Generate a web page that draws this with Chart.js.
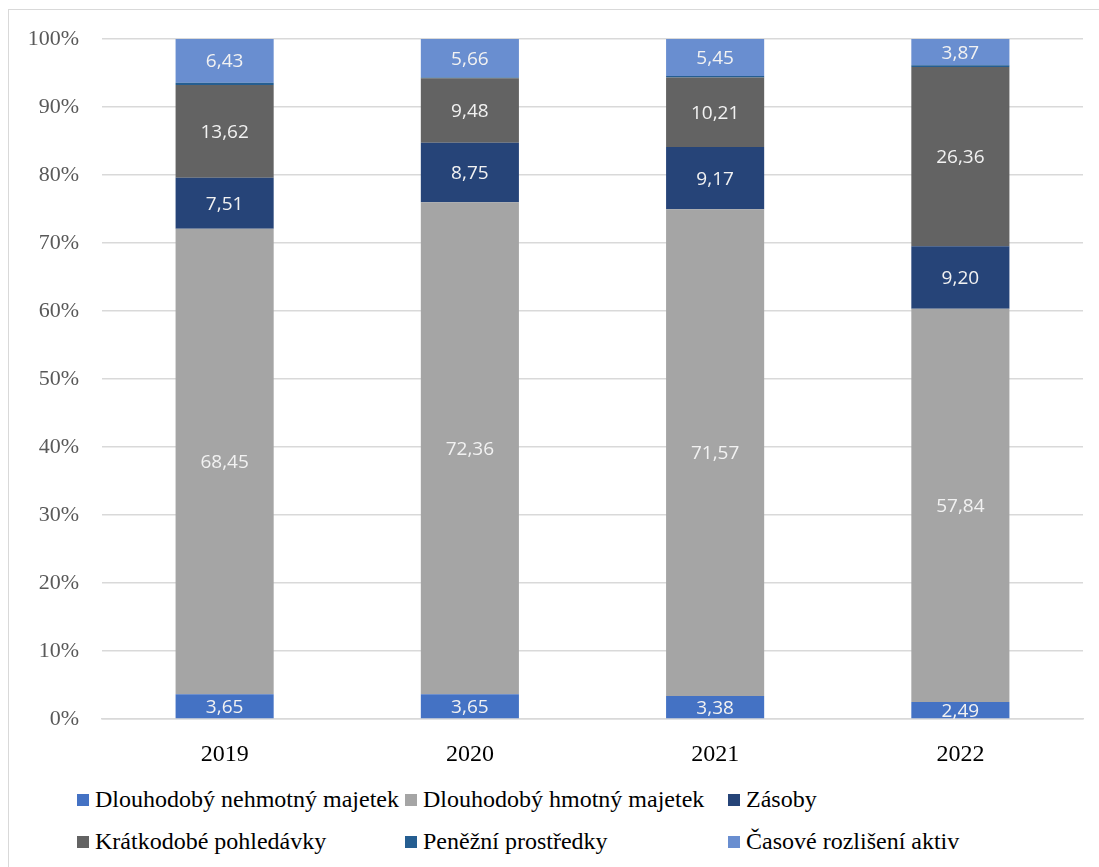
<!DOCTYPE html>
<html>
<head>
<meta charset="utf-8">
<script src="https://cdn.jsdelivr.net/npm/chart.js@4"></script>
<style>
    body { margin: 0; background: #fff; width: 1099px; height: 867px; overflow: hidden; position: relative; }
    #frame { position: absolute; left: 8px; top: 9px; width: 1200px; height: 1000px; border: 1.5px solid #D9D9D9; box-sizing: border-box; }
    #wrap { position: absolute; left: 0; top: 0; width: 1099px; height: 769px; }
    #legend { position: absolute; left: 0; top: 0; font-family: 'Liberation Serif', 'Times New Roman', serif; font-size: 24px; color: #000; }
    .item { position: absolute; white-space: nowrap; line-height: 26px; }
    .box { display: inline-block; width: 12px; height: 12px; margin-right: 6px; vertical-align: 1px; }
</style>
</head>
<body>
<div id="frame"></div>
<div id="wrap"><canvas id="chart"></canvas></div>
<div id="legend"></div>
<script>
// categories and series (percent of total assets)
const years = ['2019', '2020', '2021', '2022'];
const seriesNames = [
    'Dlouhodobý nehmotný majetek',
    'Dlouhodobý hmotný majetek',
    'Zásoby',
    'Krátkodobé pohledávky',
    'Peněžní prostředky',
    'Časové rozlišení aktiv'
];
const nehmotny = [3.65, 3.65, 3.38, 2.49];
const hmotny = [68.45, 72.36, 71.57, 57.84];
const zasoby = [7.51, 8.75, 9.17, 9.20];
const pohledavky = [13.62, 9.48, 10.21, 26.36];
const penezni = [0.34, 0.10, 0.22, 0.24];
const casove = [6.43, 5.66, 5.45, 3.87];
const yTicks = [0, 10, 20, 30, 40, 50, 60, 70, 80, 90, 100];

const colors = ['#4472C4', '#A5A5A5', '#264478', '#636363', '#255E91', '#698ED0'];
const allData = [nehmotny, hmotny, zasoby, pohledavky, penezni, casove];
const showLabels = [true, true, true, true, false, true];
const serifFont = "'Liberation Serif', 'Times New Roman', serif";

// draws the value inside each segment
const segmentLabels = {
    id: 'segmentLabels',
    afterDatasetsDraw(chart) {
        const ctx = chart.ctx;
        ctx.save();
        ctx.font = "19px 'Open Sans', sans-serif";
        ctx.fillStyle = '#F2F2F2';
        ctx.textAlign = 'center';
        ctx.textBaseline = 'middle';
        chart.data.datasets.forEach((ds, i) => {
            if (!showLabels[i]) return;
            chart.getDatasetMeta(i).data.forEach((bar, j) => {
                const p = bar.getProps(['x', 'y', 'base'], true);
                const txt = ds.data[j].toFixed(2).replace('.', ',');
                ctx.fillText(txt, p.x, (p.y + p.base) / 2 + 1);
            });
        });
        ctx.restore();
    }
};

function buildChart() {
    const ctx = document.getElementById('chart').getContext('2d');
    new Chart(ctx, {
        type: 'bar',
        data: {
            labels: years,
            datasets: seriesNames.map((name, i) => ({
                label: name,
                data: allData[i],
                backgroundColor: colors[i],
                borderWidth: 0,
                barPercentage: 0.4,
                categoryPercentage: 1.0
            }))
        },
        options: {
            responsive: true,
            maintainAspectRatio: false,
            animation: false,
            layout: { padding: { top: 39, right: 16, left: 0, bottom: 0 } },
            plugins: {
                legend: { display: false },
                tooltip: { enabled: false }
            },
            scales: {
                x: {
                    stacked: true,
                    grid: { display: false },
                    border: { color: '#D9D9D9', width: 1.5 },
                    ticks: {
                        color: '#000',
                        padding: 13,
                        font: { family: serifFont, size: 24 }
                    },
                    afterFit(scale) { scale.height = 50; }
                },
                y: {
                    stacked: true,
                    min: 0,
                    max: 100,
                    afterBuildTicks(scale) { scale.ticks = yTicks.map(v => ({ value: v })); },
                    grid: { color: '#D9D9D9', lineWidth: 1.5, drawTicks: false },
                    border: { display: false },
                    ticks: {
                        color: '#595959',
                        padding: 23,
                        font: { family: serifFont, size: 22 },
                        callback: v => v + '%'
                    },
                    afterFit(scale) { scale.width = 102; }
                }
            }
        },
        plugins: [segmentLabels]
    });
}

// legend laid out in a 3-column grid like the original
const legendPos = [[77, 799], [405, 799], [728, 799], [77, 841], [405, 841], [728, 841]];
const legend = document.getElementById('legend');
seriesNames.forEach((name, i) => {
    const el = document.createElement('div');
    el.className = 'item';
    el.style.left = legendPos[i][0] + 'px';
    el.style.top = (legendPos[i][1] - 13) + 'px';
    el.innerHTML = '<span class="box" style="background:' + colors[i] + '"></span>' + name;
    legend.appendChild(el);
});

document.fonts.load("22px 'Liberation Serif'").then(buildChart, buildChart);
</script>
</body>
</html>
